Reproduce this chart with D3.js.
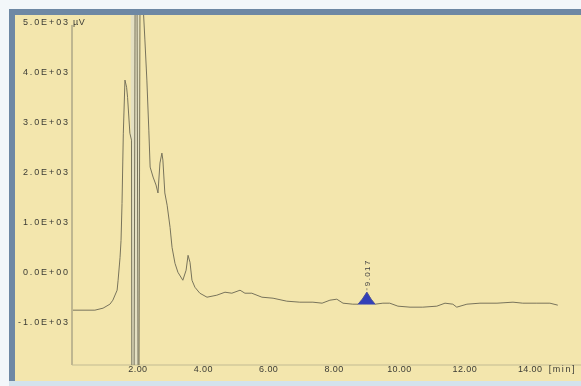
<!DOCTYPE html>
<html><head><meta charset="utf-8">
<script src="https://cdn.jsdelivr.net/npm/d3@7"></script>
<style>html,body{margin:0;padding:0;background:#fff;}svg{display:block}</style>
</head><body>
<svg id="c" width="581" height="386"></svg>
<script>
// ---- data ----
const timeMin = [0.03,0.70,0.95,1.16,1.25,1.38,1.41,1.47,1.50,1.53,1.57,1.62,1.67,1.70,1.77,1.82,
  1.83,1.90,1.93,1.99,2.02,2.05,2.08,2.17,2.23,2.29,2.35,2.39,2.48,2.57,2.63,2.69,2.75,2.78,2.84,2.91,
  3.00,3.06,3.15,3.24,3.39,3.49,3.55,3.61,3.67,3.76,3.91,4.13,4.43,4.68,4.89,5.14,5.29,5.50,5.81,6.15,
  6.57,6.97,7.37,7.65,7.89,8.10,8.29,8.59,8.75,8.88,9.02,9.15,9.27,9.51,9.72,9.97,10.34,10.73,11.16,
  11.41,11.65,11.77,12.08,12.48,13.00,13.49,13.79,14.22,14.62,14.86];
const signalUV = [-780,-780,-740,-660,-580,-380,-180,280,620,1360,2770,3835,3690,3490,2770,2630,
  -1900,-1900,5300,5300,-1900,-1900,5400,5400,4640,3835,2830,2090,1890,1730,1570,2170,2370,2230,1570,1325,
  880,480,160,-20,-180,20,320,180,-180,-320,-440,-520,-480,-420,-440,-380,-440,-440,-520,-540,
  -600,-620,-620,-640,-580,-560,-640,-660,-660,-560,-420,-560,-660,-640,-640,-700,-720,-720,-700,
  -640,-660,-720,-660,-640,-640,-620,-640,-640,-640,-680];
const yTicks = [5000,4000,3000,2000,1000,0,-1000];
const yTickLabels = ["5.0E+03","4.0E+03","3.0E+03","2.0E+03","1.0E+03","0.0E+00","-1.0E+03"];
const yUnit = "µV";
const xTicks = [2,4,6,8,10,12,14];
const xTickLabels = ["2.00","4.00","6.00","8.00","10.00","12.00","14.00"];
const xUnit = "[min]";
const peakTime = [9.02];
const peakLabel = ["9.017"];
const peakRange = [8.75, 9.27];
const artifactRange = [1.80, 2.05];

// ---- frame ----
const W = 581, H = 386;
const svg = d3.select("#c");
svg.append("rect").attr("width",W).attr("height",H).attr("fill","#f3f7fa");
svg.append("rect").attr("x",9).attr("y",9).attr("width",W-9).attr("height",373).attr("fill","#6e88a4");
svg.append("rect").attr("x",15).attr("y",15).attr("width",W-15).attr("height",366).attr("fill","#f3e6ad");
svg.append("rect").attr("x",9).attr("y",381).attr("width",W-9).attr("height",5).attr("fill","#d3e3ec");

const defs = svg.append("defs");
defs.append("filter").attr("id","soft").append("feGaussianBlur").attr("stdDeviation",0.45);
defs.append("clipPath").attr("id","plotclip").append("rect")
  .attr("x",72).attr("y",15).attr("width",W-72).attr("height",350);

const x = d3.scaleLinear().domain([0,15.57]).range([72,581]);
const y = d3.scaleLinear().domain([-1880,5140]).range([365,15]);

const g = svg.append("g").attr("filter","url(#soft)");

// artifact band
g.append("rect")
  .attr("x",x(artifactRange[0])).attr("width",x(artifactRange[1])-x(artifactRange[0]))
  .attr("y",y(5140)).attr("height",y(-1880)-y(5140))
  .attr("fill","#e2dfc4").attr("opacity",0.9);

// axes lines
g.append("line").attr("x1",72).attr("x2",72).attr("y1",25).attr("y2",365)
  .attr("stroke","#8a8772").attr("stroke-width",1);
g.append("line").attr("x1",72).attr("x2",W).attr("y1",365).attr("y2",365)
  .attr("stroke","#c2bb92").attr("stroke-width",1);

// trace
const pts = timeMin.map((t,i)=>({t, v: signalUV[i]}));
const line = d3.line().x(d=>x(d.t)).y(d=>y(d.v));
g.append("path").datum(pts).attr("d",line).attr("clip-path","url(#plotclip)")
  .attr("fill","none").attr("stroke","#77735b").attr("stroke-width",1);

// integrated peak
const inPeak = pts.filter(d=>d.t>=peakRange[0] && d.t<=peakRange[1]);
const b0 = inPeak[0], b1 = inPeak[inPeak.length-1];
const base = t => b0.v + (b1.v-b0.v)*(t-b0.t)/(b1.t-b0.t);
g.append("path").datum(inPeak)
  .attr("d", d3.area().x(d=>x(d.t)).y0(d=>y(base(d.t))).y1(d=>y(d.v)))
  .attr("fill","#3340b8").attr("stroke","#3a46b0").attr("stroke-width",0.6);

// peak label (vertical)
peakTime.forEach((pt,i)=>{
  const pv = signalUV[timeMin.indexOf(pt)];
  g.append("text").attr("transform",`translate(${x(pt)+3},${y(pv)-6}) rotate(-90)`)
    .attr("font-family","Liberation Sans, Arial, sans-serif").attr("font-size",8)
    .attr("letter-spacing",1.4).attr("fill","#444").text(peakLabel[i]);
  g.append("line").attr("x1",x(pt)).attr("x2",x(pt)).attr("y1",y(pv)-2).attr("y2",y(pv)-4)
    .attr("stroke","#555").attr("stroke-width",0.6);
});

// y axis labels
const ya = g.append("g").attr("transform","translate(72,0)")
  .call(d3.axisLeft(y).tickValues(yTicks).tickFormat((d,i)=>yTickLabels[i]).tickSize(0).tickPadding(2));
ya.select(".domain").remove();
ya.selectAll("text").attr("font-family","Liberation Sans, Arial, sans-serif").attr("font-size",9)
  .attr("letter-spacing",1.9).attr("fill","#3b3b35");
g.append("text").attr("x",73).attr("y",y(yTicks[0])).attr("dy","0.32em")
  .attr("font-family","Liberation Sans, Arial, sans-serif").attr("font-size",9)
  .attr("letter-spacing",0.5).attr("fill","#3b3b35").text(yUnit);

// x axis labels
const xa = g.append("g").attr("transform","translate(0,365)")
  .call(d3.axisBottom(x).tickValues(xTicks).tickFormat((d,i)=>xTickLabels[i]).tickSize(0).tickPadding(1));
xa.select(".domain").remove();
xa.selectAll("text").attr("font-family","Liberation Sans, Arial, sans-serif").attr("font-size",9)
  .attr("letter-spacing",0.4).attr("fill","#3b3b35");
g.append("text").attr("x",x(xTicks[xTicks.length-1])+19).attr("y",366).attr("dy","0.71em")
  .attr("font-family","Liberation Sans, Arial, sans-serif").attr("font-size",9)
  .attr("letter-spacing",1.6).attr("fill","#3b3b35").text(xUnit);
</script>
</body></html>
